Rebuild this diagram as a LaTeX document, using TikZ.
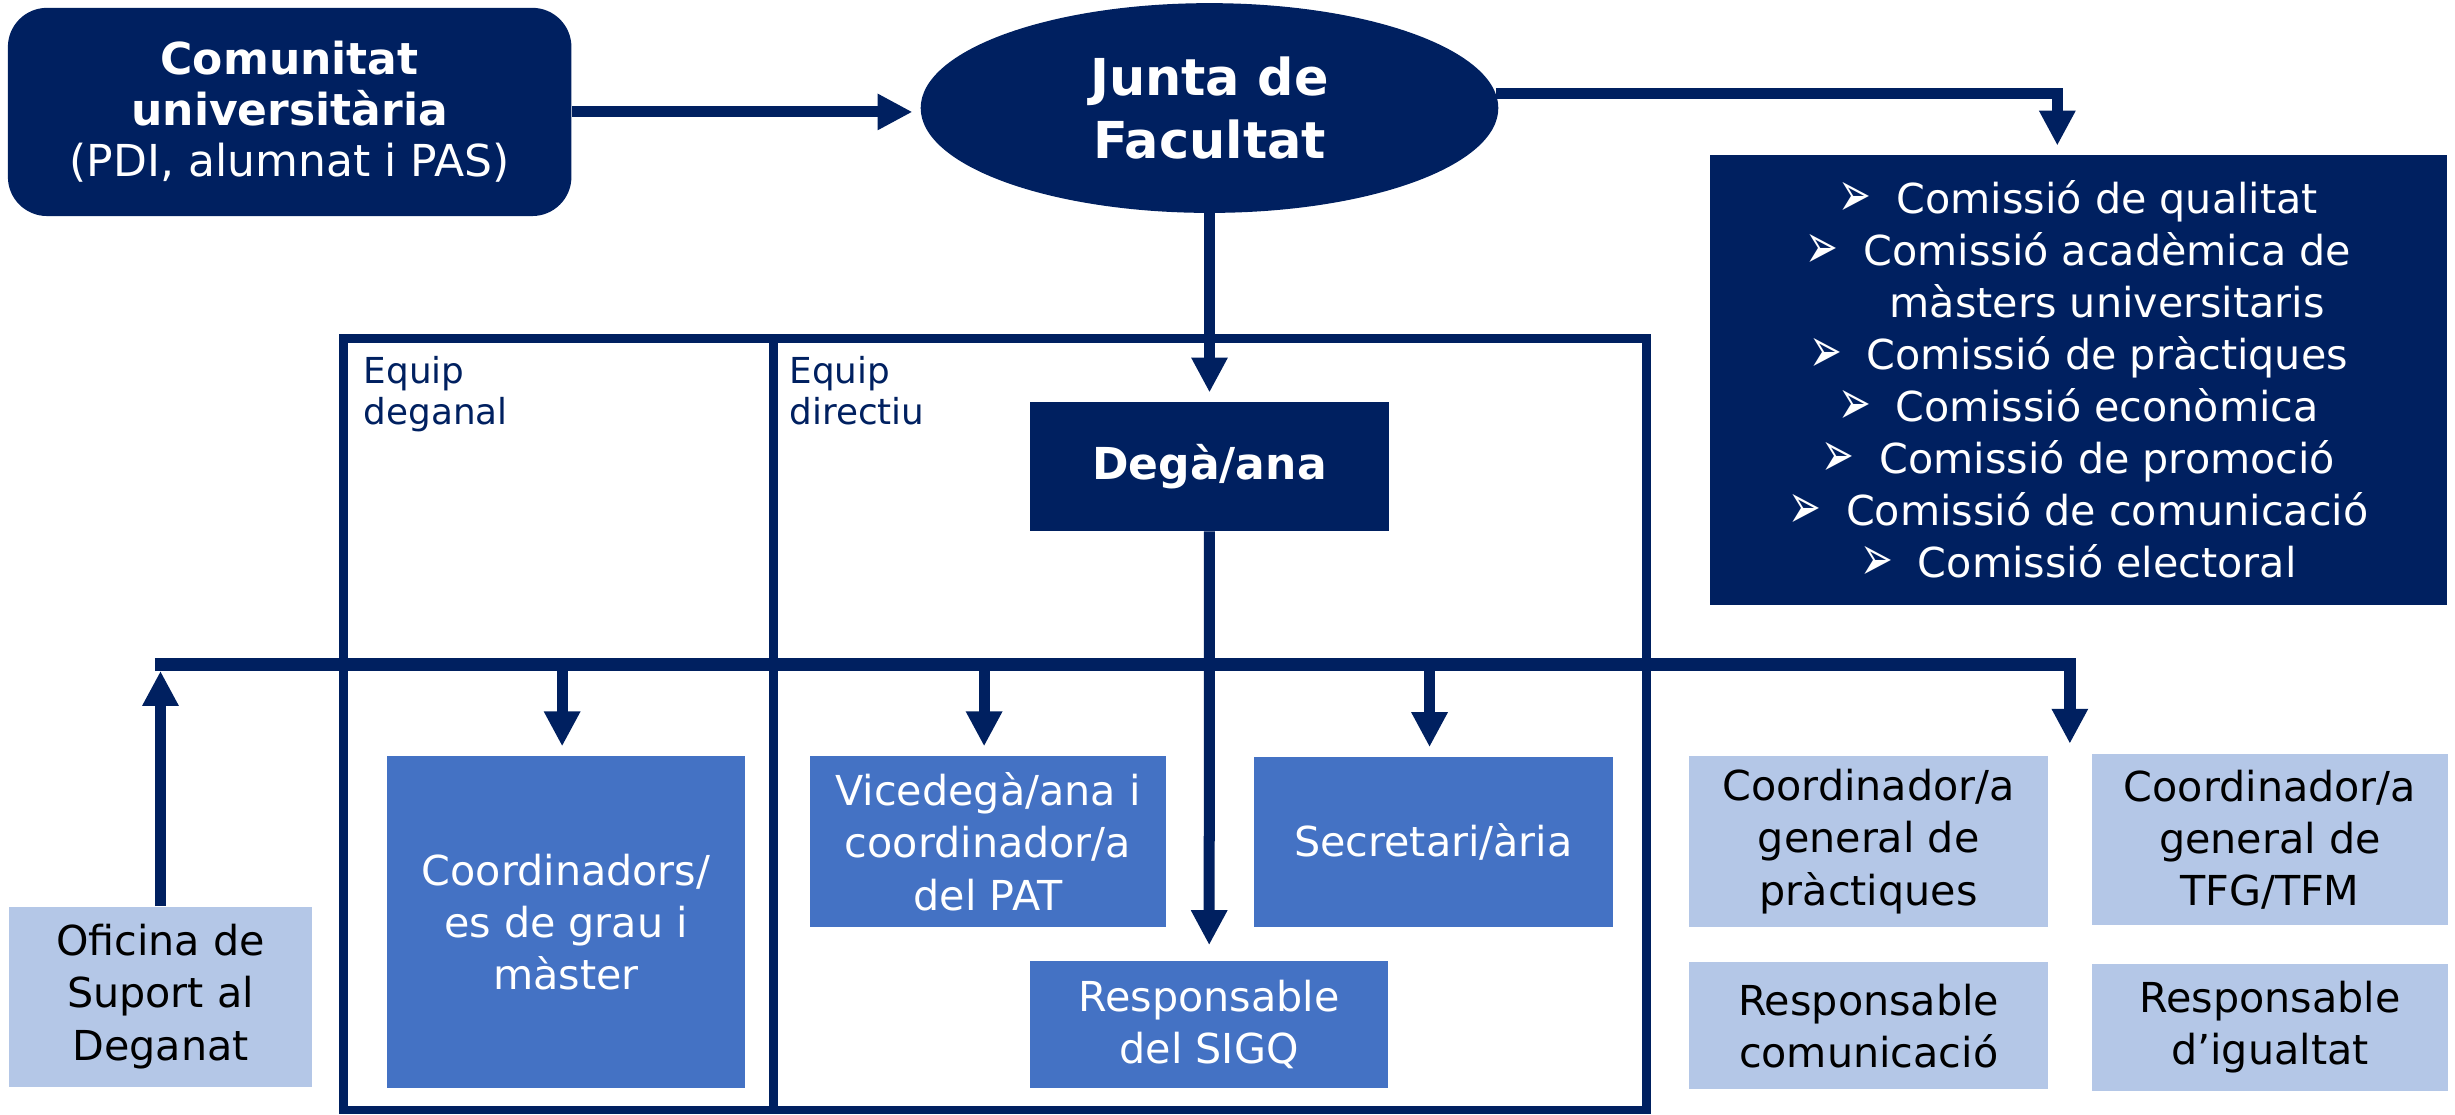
\documentclass[tikz,border=0pt]{standalone}
\usepackage{fontspec}
\setmainfont{DejaVu Sans}
\usetikzlibrary{arrows.meta,shapes.geometric,positioning}
\definecolor{navy}{HTML}{002060}
\definecolor{midblue}{HTML}{4472C4}
\definecolor{lightblue}{HTML}{B4C7E7}
\newcommand{\arrbul}{\raisebox{-0.08em}{\scalebox{0.95}[1.55]{➢}}\hspace{0.6em}}

\begin{document}
\begin{tikzpicture}[x=0.02cm,y=-0.02cm,>={Triangle[length=12.7pt,width=12.4pt]},
	box node/.style={rectangle,inner sep=0pt,align=center,font=\fontsize{15}{19}\selectfont},
	dark node/.style={box node,fill=navy,text=white},
	mid node/.style={box node,fill=midblue,text=white},
	light node/.style={box node,fill=lightblue,text=black},
	label node/.style={inner sep=0pt,align=left,anchor=north west,text=navy,font=\fontsize{13}{15.2}\selectfont},
	arrow line/.style={->,draw=navy,line width=4pt},
	bus line/.style={draw=navy,line width=4.5pt},
	team frame/.style={draw=navy,line width=3.2pt}]

	\useasboundingbox (0,0) rectangle (1568,712);

	\node[dark node,rounded corners=0.5cm,minimum width=7.2cm,minimum height=2.66cm,font=\fontsize{16}{18.5}\selectfont] (1) at (185,71.5) {{\bfseries Comunitat}\\{\bfseries universitària}\\(PDI, alumnat i PAS)};
	\node[ellipse,fill=navy,text=white,inner sep=0pt,minimum width=7.38cm,minimum height=2.68cm,align=center,font=\fontsize{18.5}{23}\selectfont\bfseries] (2) at (772.5,69) {Junta de\\Facultat};
	\node[dark node,minimum width=9.42cm,minimum height=5.75cm,font=\fontsize{15}{18.9}\selectfont] (3) at (1327.5,243) {\arrbul Comissió de qualitat\\\arrbul Comissió acadèmica de\\\hphantom{\arrbul}màsters universitaris\\\arrbul Comissió de pràctiques\\\arrbul Comissió econòmica\\\arrbul Comissió de promoció\\\arrbul Comissió de comunicació\\\arrbul Comissió electoral};

	\node[dark node,minimum width=4.58cm,minimum height=1.64cm,font=\fontsize{16}{19}\selectfont\bfseries] (4) at (772.5,298) {Degà/ana};
	\node[mid node,minimum width=4.56cm,minimum height=2.18cm] (5) at (631,537.5) {Vicedegà/ana i\\coordinador/a\\del PAT};
	\node[mid node,minimum width=4.58cm,minimum height=2.17cm] (6) at (915.5,537.75) {Secretari/ària};
	\node[mid node,minimum width=4.57cm,minimum height=1.62cm] (7) at (772.25,654.5) {Responsable\\del SIGQ};
	\node[mid node,minimum width=4.58cm,minimum height=4.24cm] (8) at (361.5,589) {Coordinadors/\\es de grau i\\màster};
	\node[light node,minimum width=3.86cm,minimum height=2.3cm] (9) at (102.5,636.5) {Oficina de\\Suport al\\Deganat};

	\node[light node,minimum width=4.58cm,minimum height=2.18cm] (10) at (1193.5,537.5) {Coordinador/a\\general de\\pràctiques};
	\node[light node,minimum width=4.55cm,minimum height=2.19cm] (11) at (1449.75,536.25) {Coordinador/a\\general de\\TFG/TFM};
	\node[light node,minimum width=4.58cm,minimum height=1.62cm] (12) [below=0.44cm of 10] {Responsable\\comunicació};
	\node[light node,minimum width=4.54cm,minimum height=1.62cm] (13) [below=0.48cm of 11] {Responsable\\d’igualtat};

	\node[label node] (14) at (232,227) {Equip\\deganal};
	\node[label node] (15) at (504,227) {Equip\\directiu};

	\draw[team frame] (219.5,216) rectangle (1051.5,709);
	\draw[team frame] (494,216) -- (494,709);

	\coordinate (b) at (0,424.5);
	\coordinate (q) at (1314,99.5);
	\coordinate (r) at (1322,475);

	\draw[arrow line,shorten >=2.8pt] (1.east) -- (1.east -| 2.west);
	\draw[arrow line,shorten >=3.7pt] (2.3) -| (q);
	\path (2) edge[arrow line,shorten >=3.4pt] (4)
		(4) edge[arrow line,shorten >=5.7pt] (7);

	\draw[bus line,->] ([xshift=-2pt]9.north |- b) -| (r);
	\draw[arrow line,shorten >=2.3pt] (9.north) -- (9.north |- b);
	\foreach \n in {8,5,6}
		\draw[arrow line,shorten >=3.4pt] ([xshift=-1.4pt]\n.north |- b) -- ([xshift=-1.4pt]\n.north);

\end{tikzpicture}
\end{document}
